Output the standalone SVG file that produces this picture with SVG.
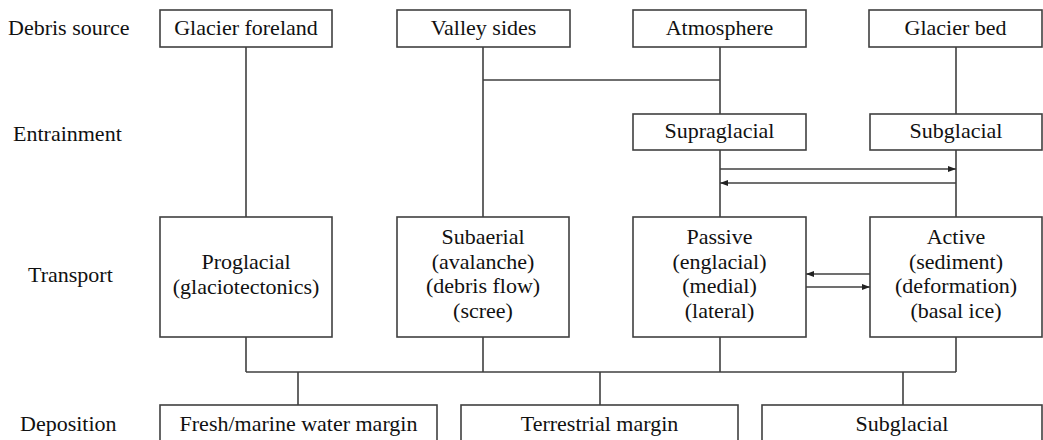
<svg xmlns="http://www.w3.org/2000/svg" width="1043" height="440" viewBox="0 0 1043 440">
<style>
  text { font-size: 22px; fill: #111; }
  .c { text-anchor: middle; }
  rect { fill: #fff; stroke: #404040; stroke-width: 1.6; }
  .ln { fill: none; stroke: #404040; stroke-width: 1.6; }
</style>
<defs>
  <marker id="ah" viewBox="0 0 8 6" refX="8" refY="3" markerWidth="8" markerHeight="6" markerUnits="userSpaceOnUse" orient="auto">
    <path d="M0,0 L8,3 L0,6 Z" fill="#222"/>
  </marker>
</defs>
<rect width="1043" height="440" style="fill:#fff;stroke:none"/>

<g id="labels">
  <text x="8" y="35" font-family="Liberation Serif, serif">Debris source</text>
  <text x="13" y="141" font-family="Liberation Serif, serif">Entrainment</text>
  <text x="28" y="282" font-family="Liberation Serif, serif">Transport</text>
  <text x="20" y="431" font-family="Liberation Serif, serif">Deposition</text>
</g>

<g id="connectors">
  <path class="ln" d="M246,47 V217 M483,47 V217 M720,47 V114 M483,80 H720 M956,47 V114 M720,150 V217 M956,150 V217"/>
  <path class="ln" d="M246,337 V372 M483,337 V372 M720,337 V372 M956,337 V372 M246,372 H956 M298,372 V405 M600,372 V405 M903,372 V405"/>
  <line class="ln" x1="720" y1="169" x2="956" y2="169" marker-end="url(#ah)"/>
  <line class="ln" x1="956" y1="183" x2="720" y2="183" marker-end="url(#ah)"/>
  <line class="ln" x1="870" y1="274" x2="806" y2="274" marker-end="url(#ah)"/>
  <line class="ln" x1="806" y1="287" x2="870" y2="287" marker-end="url(#ah)"/>
</g>

<g id="glacier-foreland"><rect x="160" y="10" width="172" height="37"/><text class="c" x="246" y="35" font-family="Liberation Serif, serif">Glacier foreland</text></g>
<g id="valley-sides"><rect x="397" y="10" width="173" height="37"/><text class="c" x="483.5" y="35" font-family="Liberation Serif, serif">Valley sides</text></g>
<g id="atmosphere"><rect x="633" y="10" width="173" height="37"/><text class="c" x="719.5" y="35" font-family="Liberation Serif, serif">Atmosphere</text></g>
<g id="glacier-bed"><rect x="869" y="10" width="173" height="37"/><text class="c" x="955.5" y="35" font-family="Liberation Serif, serif">Glacier bed</text></g>

<g id="supraglacial"><rect x="633" y="114" width="173" height="36"/><text class="c" x="719.5" y="138" font-family="Liberation Serif, serif">Supraglacial</text></g>
<g id="subglacial-entrainment"><rect x="870" y="114" width="172" height="36"/><text class="c" x="956" y="138" font-family="Liberation Serif, serif">Subglacial</text></g>

<g id="proglacial"><rect x="160" y="217" width="172" height="120"/>
  <text class="c" x="246" y="269" font-family="Liberation Serif, serif">Proglacial</text>
  <text class="c" x="246" y="294" font-family="Liberation Serif, serif">(glaciotectonics)</text></g>
<g id="subaerial"><rect x="397" y="217" width="172" height="120"/>
  <text class="c" x="483" y="244" font-family="Liberation Serif, serif">Subaerial</text>
  <text class="c" x="483" y="268.5" font-family="Liberation Serif, serif">(avalanche)</text>
  <text class="c" x="483" y="293" font-family="Liberation Serif, serif">(debris flow)</text>
  <text class="c" x="483" y="317.5" font-family="Liberation Serif, serif">(scree)</text></g>
<g id="passive"><rect x="633" y="217" width="173" height="120"/>
  <text class="c" x="719.5" y="244" font-family="Liberation Serif, serif">Passive</text>
  <text class="c" x="719.5" y="268.5" font-family="Liberation Serif, serif">(englacial)</text>
  <text class="c" x="719.5" y="293" font-family="Liberation Serif, serif">(medial)</text>
  <text class="c" x="719.5" y="317.5" font-family="Liberation Serif, serif">(lateral)</text></g>
<g id="active"><rect x="870" y="217" width="172" height="120"/>
  <text class="c" x="956" y="244" font-family="Liberation Serif, serif">Active</text>
  <text class="c" x="956" y="268.5" font-family="Liberation Serif, serif">(sediment)</text>
  <text class="c" x="956" y="293" font-family="Liberation Serif, serif">(deformation)</text>
  <text class="c" x="956" y="317.5" font-family="Liberation Serif, serif">(basal ice)</text></g>

<g id="water-margin"><rect x="160" y="405" width="277" height="40"/><text class="c" x="298.5" y="431" font-family="Liberation Serif, serif">Fresh/marine water margin</text></g>
<g id="terrestrial-margin"><rect x="461" y="405" width="277" height="40"/><text class="c" x="599.5" y="431" font-family="Liberation Serif, serif">Terrestrial margin</text></g>
<g id="subglacial-deposition"><rect x="762" y="405" width="280" height="40"/><text class="c" x="902" y="431" font-family="Liberation Serif, serif">Subglacial</text></g>
</svg>
